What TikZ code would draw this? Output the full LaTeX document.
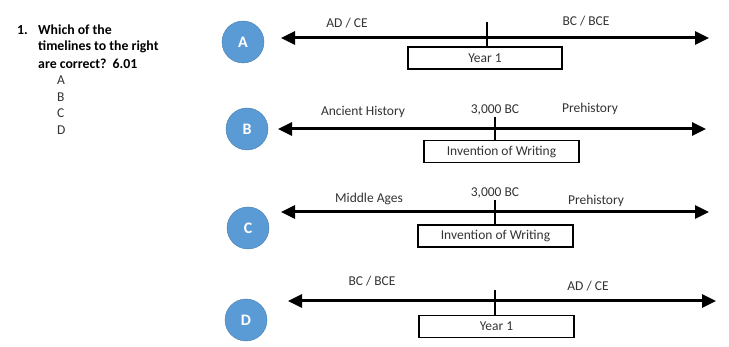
\documentclass[tikz,border=0pt]{standalone}
\usepackage{fontspec}
\setmainfont{Carlito}
\usetikzlibrary{arrows.meta}
\definecolor{cblue}{HTML}{5B9BD5}
\definecolor{txt}{HTML}{333333}
\begin{document}
\begin{tikzpicture}[x=1pt,y=-1pt,
  axis/.style={line width=3pt,{Triangle[length=14pt,width=13pt]}-{Triangle[length=14pt,width=13pt]}},
  tick/.style={line width=2.4pt},
  yearbox/.style={draw,line width=1.4pt,minimum height=22pt,inner sep=0pt,font=\fontsize{13.5}{15}\selectfont,text=txt},
  lab/.style={font=\fontsize{13.5}{15}\selectfont,text=txt,inner sep=0pt},
  letter/.style={circle,fill=cblue,draw=cblue!80!black,line width=0.4pt,minimum size=42pt,inner sep=0pt,text=white,font=\fontsize{16}{18}\selectfont\bfseries},
  qtext/.style={font=\fontsize{13.8}{16}\selectfont\bfseries,text=black,anchor=west,inner sep=0pt},
  opt/.style={font=\fontsize{13.5}{15}\selectfont,text=txt,anchor=west,inner sep=0pt}]
\useasboundingbox (0,0) rectangle (729,347);
% question
\node[qtext] (qn) at (17,30) {1.};
\node[qtext] (q1) at (38,30) {Which of the};
\node[qtext] (q2) at (38,47) {timelines to the right};
\node[qtext] (q3) at (38,64) {are correct?\ \ 6.01};
\node[opt] (oa) at (57,80) {A};
\node[opt] (ob) at (57,97) {B};
\node[opt] (oc) at (57,113) {C};
\node[opt] (od) at (57,130) {D};
% A
\node[letter] (cA) at (243,42) {A};
\coordinate (aL) at (281,38); \coordinate (aR) at (709,38);
\draw[axis] (aL) -- (aR);
\node[yearbox,minimum width=154pt] (bA) at (485,58) {Year 1};
\coordinate (tA) at (487,22);
\draw[tick] (tA) -- (tA |- bA.north);
\node[lab] (lA1) at (347,23) {AD / CE};
\node[lab] (lA2) at (586,21) {BC / BCE};
% B
\node[letter] (cB) at (247,129) {B};
\coordinate (bL) at (278,129); \coordinate (bR) at (706,129);
\draw[axis] (bL) -- (bR);
\node[yearbox,minimum width=155pt] (bB) at (501.5,151.5) {Invention of Writing};
\coordinate (tB) at (495,117);
\draw[tick] (tB) -- (tB |- bB.north);
\node[lab] (lB1) at (363,112) {Ancient History};
\node[lab] (lB2) at (495,110) {3,000 BC};
\node[lab] (lB3) at (590,109) {Prehistory};
% C
\node[letter] (cC) at (248,228) {C};
\coordinate (cL) at (281,212); \coordinate (cR) at (709,212);
\draw[axis] (cL) -- (cR);
\node[yearbox,minimum width=155pt] (bC) at (495.5,236) {Invention of Writing};
\coordinate (tC) at (495,200);
\draw[tick] (tC) -- (tC |- bC.north);
\node[lab] (lC1) at (369,199) {Middle Ages};
\node[lab] (lC2) at (495,193) {3,000 BC};
\node[lab] (lC3) at (596,201) {Prehistory};
% D
\node[letter] (cD) at (246,320) {D};
\coordinate (dL) at (288,301); \coordinate (dR) at (716,301);
\draw[axis] (dL) -- (dR);
\node[yearbox,minimum width=155pt] (bD) at (496.5,326.5) {Year 1};
\coordinate (tD) at (495,290);
\draw[tick] (tD) -- (tD |- bD.north);
\node[lab] (lD1) at (372,281) {BC / BCE};
\node[lab] (lD2) at (588,286) {AD / CE};
\end{tikzpicture}
\end{document}
